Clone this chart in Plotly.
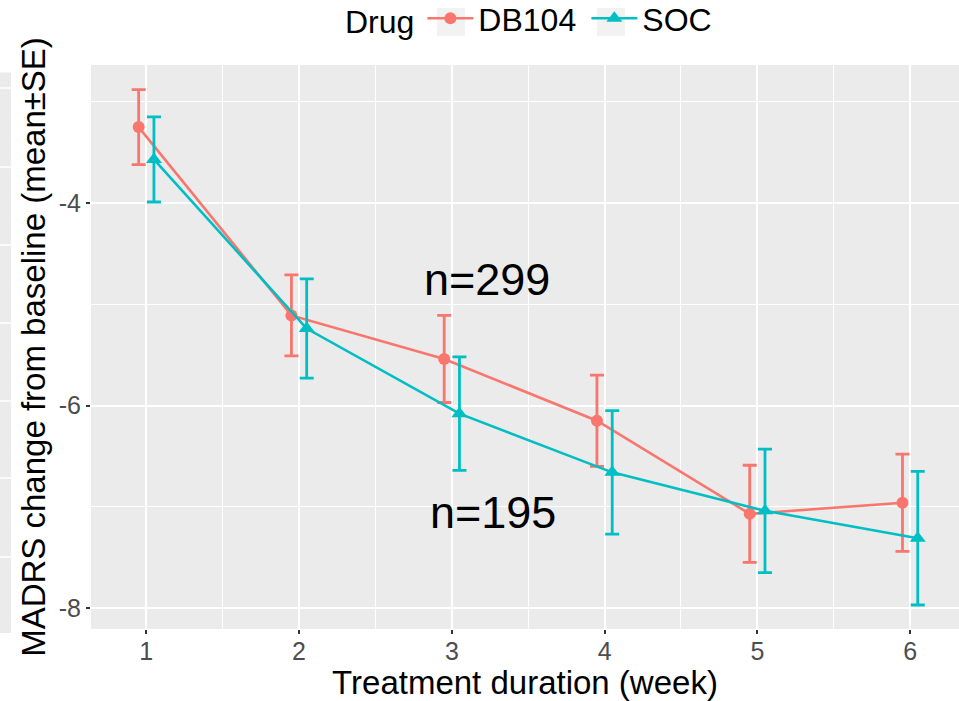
import plotly.graph_objects as go
import numpy as np

weeks = [1, 2, 3, 4, 5, 6]
db104_mean = [-3.25, -5.11, -5.54, -6.15, -7.07, -6.96]
db104_se = [0.37, 0.40, 0.43, 0.45, 0.48, 0.48]
soc_mean = [-3.57, -5.24, -6.08, -6.66, -7.04, -7.31]
soc_se = [0.42, 0.49, 0.56, 0.61, 0.61, 0.66]
n_labels = ["n=299", "n=195"]
n_pos = [(3.23, -4.76), (3.27, -7.06)]

RED = "#F8766D"
TEAL = "#00BFC4"
FONT = "Liberation Sans, Arial, sans-serif"

dodge = 0.05
x_db = [w - dodge for w in weeks]
x_soc = [w + dodge for w in weeks]

fig = go.Figure()
fig.add_trace(go.Scatter(
    x=x_db, y=db104_mean, mode="lines+markers", name="DB104",
    line=dict(color=RED, width=2.6),
    marker=dict(symbol="circle", size=12, color=RED),
    error_y=dict(type="data", array=db104_se, color=RED, thickness=2.8, width=7),
))
fig.add_trace(go.Scatter(
    x=x_soc, y=soc_mean, mode="lines+markers", name="SOC",
    line=dict(color=TEAL, width=2.6),
    marker=dict(symbol="triangle-up", size=14, color=TEAL),
    error_y=dict(type="data", array=soc_se, color=TEAL, thickness=2.8, width=7),
))

for txt, (xx, yy) in zip(n_labels, n_pos):
    fig.add_annotation(x=xx, y=yy, text=txt, showarrow=False,
                       font=dict(family=FONT, size=45, color="black"))

PW, PH, PL, PB = 868.0, 564.0, 91.0, 629.0
def px_x(p):
    return (p - PL) / PW
def px_y(p):
    return (PB - p) / PH

# cropped neighbouring panel strip at the far left
shapes = [dict(type="rect", xref="paper", yref="paper", layer="below",
               x0=px_x(0), x1=px_x(11), y0=px_y(633), y1=px_y(72.5),
               fillcolor="#EBEBEB", line=dict(width=0))]
for py in [88, 167, 245, 323, 401, 478, 557]:
    shapes.append(dict(type="line", xref="paper", yref="paper", layer="below",
                       x0=px_x(0), x1=px_x(11), y0=px_y(py), y1=px_y(py),
                       line=dict(color="white", width=1.5)))
# legend key backgrounds
for kc in [451, 611]:
    shapes.append(dict(type="rect", xref="paper", yref="paper", layer="below",
                       x0=px_x(kc - 14), x1=px_x(kc + 14), y0=px_y(36), y1=px_y(8),
                       fillcolor="#F2F2F2", line=dict(width=0)))

fig.update_layout(
    width=959, height=701,
    margin=dict(l=91, r=0, t=65, b=72, autoexpand=False),
    paper_bgcolor="white", plot_bgcolor="#EBEBEB",
    font=dict(family=FONT, color="black"),
    showlegend=True,
    legend=dict(orientation="h", x=0.5 + 22 / PW, xanchor="center", y=px_y(46), yanchor="bottom",
                title=dict(text="Drug", font=dict(size=32, family=FONT)),
                font=dict(size=32, family=FONT), bgcolor="rgba(0,0,0,0)",
                itemwidth=46, entrywidth=103, entrywidthmode="pixels"),
    shapes=shapes,
    xaxis=dict(range=[0.638, 6.32], tickvals=weeks, ticktext=[str(w) for w in weeks],
               showgrid=True, gridcolor="white", gridwidth=1.6, zeroline=False,
               ticks="outside", ticklen=4, tickwidth=1.5, tickcolor="#333333",
               tickfont=dict(size=25, color="#4D4D4D", family=FONT),
               ticklabelstandoff=-4,
               minor=dict(dtick=0.5, tick0=0.5, showgrid=True, gridcolor="white", gridwidth=0.8, ticks=""),
               title=dict(text="Treatment duration (week)", font=dict(size=33, family=FONT), standoff=6),
               automargin=False),
    yaxis=dict(range=[-8.207, -2.637], tickvals=[-8, -6, -4], ticktext=["-8", "-6", "-4"],
               showgrid=True, gridcolor="white", gridwidth=1.6, zeroline=False,
               ticks="outside", ticklen=4, tickwidth=1.5, tickcolor="#333333",
               tickfont=dict(size=25, color="#4D4D4D", family=FONT),
               minor=dict(dtick=1, tick0=-9, showgrid=True, gridcolor="white", gridwidth=0.8, ticks=""),
               title=dict(text="MADRS change from baseline (mean±SE)", font=dict(size=33, family=FONT), standoff=3),
               automargin=False),
)

fig.write_html("out.html")
